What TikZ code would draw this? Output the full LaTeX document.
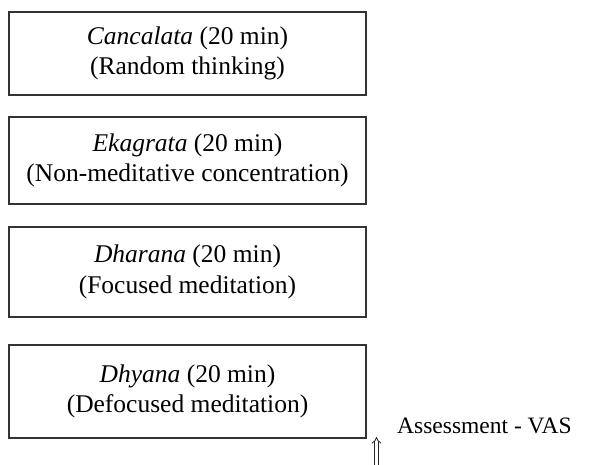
\documentclass[tikz,border=0pt]{standalone}
\usepackage{fontspec}
\setmainfont{Liberation Serif}
\usetikzlibrary{arrows.meta}
\begin{document}
\begin{tikzpicture}[x=1pt,y=-1pt]
\tikzset{
  stagebox/.style={draw=black!80, line width=1.5pt, minimum width=357pt, inner sep=0pt,
    align=center, font=\fontsize{25.5}{30.5}\selectfont, text=black},
  vasarrow/.style={draw=black!85, line width=0.8pt, double=white, double distance=2.6pt, -{Implies}},
  vaslabel/.style={font=\fontsize{23.5}{28}\selectfont, text=black, inner sep=0pt}
}
\useasboundingbox (0,0) rectangle (589,465);
\node[stagebox, minimum height=83pt] (b1) at (187.5,53.5) {\textit{Cancalata} (20 min)\\(Random thinking)};
\node[stagebox, minimum height=87pt] (b2) at (187.5,160.5) {\textit{Ekagrata} (20 min)\\(Non-meditative concentration)};
\node[stagebox, minimum height=90pt] (b3) at (187.5,272) {\textit{Dharana} (20 min)\\(Focused meditation)};
\node[stagebox, minimum height=93pt] (b4) at (187.5,391.5) {\textit{Dhyana} (20 min)\\(Defocused meditation)};
\coordinate (abase) at (376.5,475);
\coordinate (atip) at (376.5,437);
\draw[vasarrow] (abase) -- (atip);
\node[vaslabel, anchor=base west] (vas) at (397,433) {Assessment - VAS};
\end{tikzpicture}
\end{document}
